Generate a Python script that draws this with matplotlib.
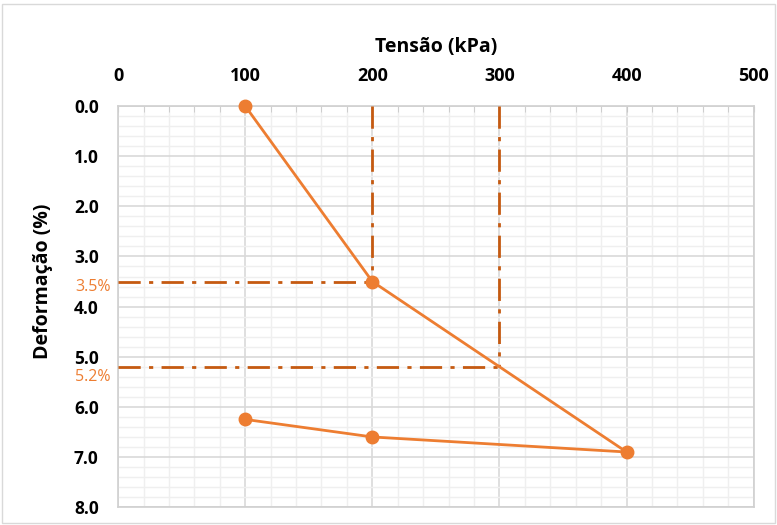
import matplotlib.pyplot as plt
import matplotlib.transforms as mtransforms

# data
tensao = [100, 200, 400, 200, 100]
deformacao = [0.0, 3.5, 6.9, 6.6, 6.25]
ref_tensao = [200, 300]
ref_deform = [3.5, 5.2]
ref_labels = ['3.5%', '5.2%']
label_shift = [0.1, 0.2]  # keeps 5.2% clear of the 5.0 tick label
x_ticks = [0, 100, 200, 300, 400, 500]
y_ticks = [0, 1, 2, 3, 4, 5, 6, 7, 8]

line_color = '#ED7D31'
ref_color = '#C55A11'

plt.rcParams['font.family'] = ['Open Sans', 'DejaVu Sans']

fig = plt.figure(figsize=(7.77, 5.25), dpi=100)
ax = fig.add_axes([0.152, 0.034, 0.818, 0.764])

# grid
ax.set_xlim(0, 500)
ax.set_ylim(8, 0)
ax.set_xticks(x_ticks)
ax.set_yticks(y_ticks)
ax.set_xticks(range(0, 501, 20), minor=True)
ax.set_yticks([i / 5 for i in range(41)], minor=True)
ax.grid(which='major', color='#d9d9d9', lw=1.2)
ax.grid(which='minor', color='#efefef', lw=1.0)
ax.set_axisbelow(True)

ax.xaxis.tick_top()
ax.xaxis.set_label_position('top')
ax.set_xticklabels([str(v) for v in x_ticks], fontsize=13, fontweight='bold')
ax.set_yticklabels([f'{v:.1f}' for v in y_ticks], fontsize=12.5, fontweight='bold')
ax.tick_params(axis='x', which='both', direction='in', length=4, color='#c8c8c8', pad=15)
ax.tick_params(axis='y', which='both', length=0, pad=14)
ax.set_xlabel('Tensão (kPa)', fontsize=14, fontweight='bold', labelpad=11)
ax.set_ylabel('Deformação (%)', fontsize=14, fontweight='bold')
ax.yaxis.set_label_coords(-0.102, 0.564)
for s in ax.spines.values():
    s.set_color('#d0d0d0')
    s.set_linewidth(1.2)

# reference dash-dot lines
dash = (0, (8, 3, 1.5, 3))
for xv, yv in zip(ref_tensao, ref_deform):
    ax.plot([0, xv], [yv, yv], color=ref_color, lw=2, ls=dash, zorder=3)
    ax.plot([xv, xv], [0, yv], color=ref_color, lw=2, ls=dash, zorder=3)

trans = mtransforms.blended_transform_factory(ax.transAxes, ax.transData)
for yv, lab, dy in zip(ref_deform, ref_labels, label_shift):
    ax.text(-0.012, yv + dy, lab, transform=trans, ha='right', va='center',
            fontsize=11.5, color=line_color)

# curve
ax.plot(tensao, deformacao, color=line_color, lw=2, marker='o', ms=9,
        zorder=4, clip_on=False)

fig.patches.append(plt.Rectangle((0.003, 0.003), 0.994, 0.99, transform=fig.transFigure,
                                 fill=False, edgecolor='#d9d9d9', lw=1))

plt.savefig('out.png', dpi=100)
